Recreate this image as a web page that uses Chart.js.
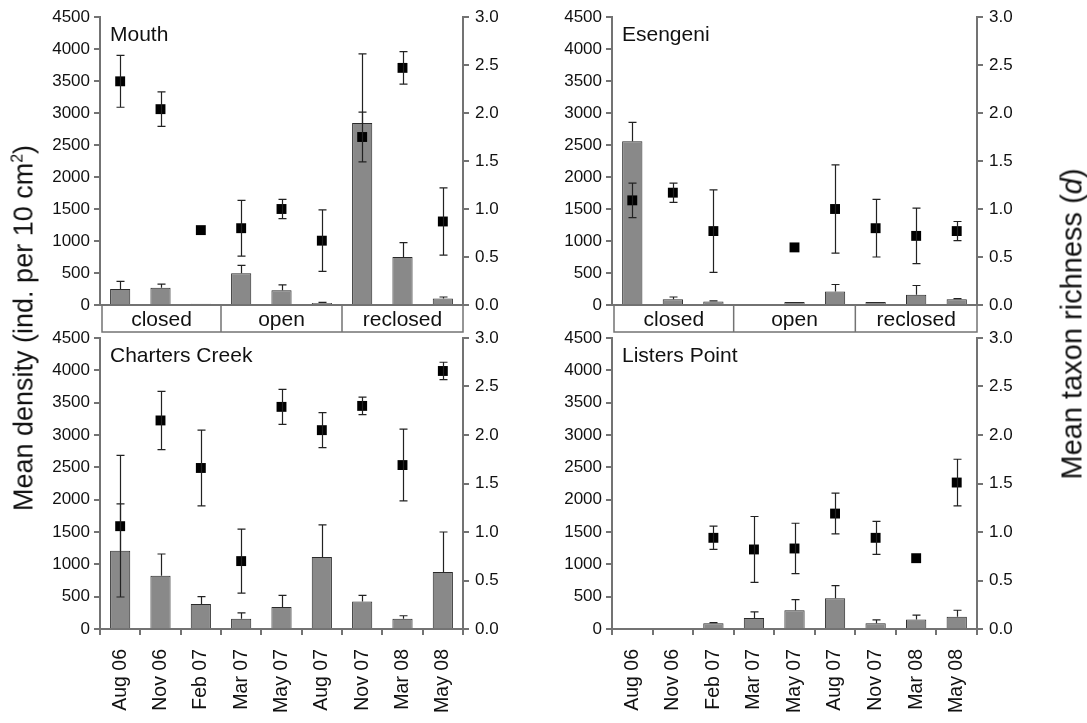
<!DOCTYPE html>
<html lang="en">
<head>
<meta charset="UTF-8">
<title>Mean density and taxon richness</title>
<script src="https://cdn.jsdelivr.net/npm/chart.js"></script>
<style>
  body { margin: 0; background: #fff; font-family: "Liberation Sans", Arial, sans-serif; }
  #wrap { position: relative; width: 1087px; height: 723px; overflow: hidden; }
  canvas { position: absolute; }
  .ytitle {
    position: absolute; white-space: nowrap; font-size: 27px; line-height: 1; color: #111;
    transform: translate(-50%, -50%) rotate(-90deg);
  }
  .ytitle sup { font-size: 16px; line-height: 0; vertical-align: 10px; }
</style>
</head>
<body>
<div id="wrap">
  <canvas id="mouth" width="545" height="345" style="left:0;top:0"></canvas>
  <canvas id="esengeni" width="542" height="345" style="left:545px;top:0"></canvas>
  <canvas id="charters" width="545" height="403" style="left:0;top:320px"></canvas>
  <canvas id="listers" width="542" height="403" style="left:545px;top:320px"></canvas>
  <div class="ytitle" style="left:24px;top:328px">Mean density (ind. per 10 cm<sup>2</sup>)</div>
  <div class="ytitle" style="left:1072px;top:324px;font-size:29px">Mean taxon richness (<i>d</i>)</div>
</div>

<script>
// sampling dates and mouth phases
const months = ['Aug 06', 'Nov 06', 'Feb 07', 'Mar 07', 'May 07', 'Aug 07', 'Nov 07', 'Mar 08', 'May 08'];
const phases = ['closed', 'open', 'reclosed'];
const densityTicks = [0, 500, 1000, 1500, 2000, 2500, 3000, 3500, 4000, 4500];
const richnessTicks = [0, 0.5, 1.0, 1.5, 2.0, 2.5, 3.0];

// Mouth
const mouthDensity = [250, 270, 20, 495, 230, 30, 2845, 750, 100];
const mouthDensityErr = [120, 57, 0, 125, 83, 10, 1080, 225, 25];
const mouthRichness = [2.33, 2.04, 0.78, 0.80, 1.00, 0.67, 1.75, 2.47, 0.87];
const mouthRichnessErr = [0.27, 0.18, 0, 0.29, 0.10, 0.32, 0.26, 0.17, 0.35];

// Esengeni
const esengeniDensity = [2560, 90, 55, null, 45, 210, 45, 160, 90];
const esengeniDensityErr = [295, 35, 10, null, 0, 110, 0, 145, 10];
const esengeniRichness = [1.09, 1.17, 0.77, null, 0.60, 1.00, 0.80, 0.72, 0.77];
const esengeniRichnessErr = [0.18, 0.10, 0.43, null, 0, 0.46, 0.30, 0.29, 0.10];

// Charters Creek
const chartersDensity = [1210, 825, 385, 160, 340, 1115, 425, 160, 880];
const chartersDensityErr = [725, 335, 115, 90, 180, 495, 95, 45, 620];
const chartersRichness = [1.06, 2.15, 1.66, 0.70, 2.29, 2.05, 2.30, 1.69, 2.66];
const chartersRichnessErr = [0.73, 0.30, 0.39, 0.33, 0.18, 0.18, 0.09, 0.37, 0.09];

// Listers Point
const listersDensity = [null, null, 90, 170, 290, 475, 90, 145, 190];
const listersDensityErr = [null, null, 10, 95, 165, 195, 50, 70, 100];
const listersRichness = [null, null, 0.94, 0.82, 0.83, 1.19, 0.94, 0.73, 1.51];
const listersRichnessErr = [null, null, 0.12, 0.34, 0.26, 0.21, 0.17, 0, 0.24];

const axisGrey = '#737373';
Chart.defaults.font.family = '"Liberation Sans", Arial, sans-serif';
Chart.defaults.color = '#111';

// error bars, panel title and the closed/open/reclosed strip
const extras = {
  id: 'extras',
  afterDatasetsDraw(chart) {
    const ctx = chart.ctx, xs = chart.scales.x;
    ctx.save();
    ctx.strokeStyle = '#222';
    ctx.lineWidth = 1.2;
    chart.data.datasets.forEach(ds => {
      const ys = chart.scales[ds.yAxisID];
      ds.data.forEach((v, i) => {
        const e = ds.errors[i];
        if (v == null || !e) return;
        const px = Math.round(xs.getPixelForValue(i)) + 0.5;
        const top = ys.getPixelForValue(v + e);
        const bot = ds.type === 'line' ? ys.getPixelForValue(v - e) : ys.getPixelForValue(v);
        ctx.beginPath();
        ctx.moveTo(px, top); ctx.lineTo(px, bot);
        ctx.moveTo(px - 4, top); ctx.lineTo(px + 4, top);
        if (ds.type === 'line') { ctx.moveTo(px - 4, bot); ctx.lineTo(px + 4, bot); }
        ctx.stroke();
      });
    });
    ctx.restore();
  },
  afterDraw(chart, args, opts) {
    const ctx = chart.ctx, a = chart.chartArea, xs = chart.scales.x;
    ctx.save();
    ctx.fillStyle = '#111';
    ctx.font = '21px "Liberation Sans", Arial, sans-serif';
    ctx.textBaseline = 'alphabetic';
    ctx.fillText(opts.title, a.left + 10, a.top + 24);
    if (opts.strip) {
      const top = a.bottom, h = 27;
      ctx.strokeStyle = axisGrey;
      ctx.lineWidth = 2;
      ctx.beginPath();
      ctx.moveTo(a.left, top); ctx.lineTo(a.right, top);
      ctx.stroke();
      ctx.lineWidth = 1.5;
      ctx.strokeRect(a.left + 2, top, a.right - a.left - 2, h);
      const edges = [a.left + 2];
      [2, 5].forEach(i => edges.push((xs.getPixelForValue(i) + xs.getPixelForValue(i + 1)) / 2));
      edges.push(a.right);
      ctx.beginPath();
      edges.slice(1, 3).forEach(x => { ctx.moveTo(x, top); ctx.lineTo(x, top + h); });
      ctx.stroke();
      ctx.font = '21px "Liberation Sans", Arial, sans-serif';
      ctx.textAlign = 'center';
      phases.forEach((p, i) => ctx.fillText(p, (edges[i] + edges[i + 1]) / 2, top + 21));
    }
    ctx.restore();
  }
};

function makeChart(id, title, density, densityErr, richness, richnessErr, bottom) {
  const right = id === 'mouth' || id === 'charters';
  const leftW = right ? 100 : 67;
  const rightW = right ? 82 : 110;
  return new Chart(document.getElementById(id), {
    type: 'bar',
    data: {
      labels: months,
      datasets: [
        {
          type: 'line', data: richness, errors: richnessErr, yAxisID: 'y1', order: 1,
          showLine: false, pointStyle: 'rect', pointRadius: 7, pointHoverRadius: 7,
          pointBackgroundColor: '#000', pointBorderWidth: 0, borderColor: '#000'
        },
        {
          type: 'bar', data: density, errors: densityErr, yAxisID: 'y', order: 2,
          backgroundColor: '#898989', borderColor: '#2a2a2a', borderWidth: 1,
          barPercentage: 0.5, categoryPercentage: 1
        }
      ]
    },
    options: {
      responsive: false,
      animation: false,
      layout: { padding: { top: bottom ? 18 : 17, bottom: bottom ? 0 : 40, left: 0, right: 0 } },
      plugins: {
        legend: { display: false },
        tooltip: { enabled: false },
        extras: { title: title, strip: !bottom }
      },
      scales: {
        x: {
          display: bottom,
          afterFit: s => { if (bottom) s.height = 94; },
          grid: { drawOnChartArea: false, tickLength: 6, color: axisGrey, lineWidth: 2 },
          border: { color: axisGrey, width: 2 },
          ticks: { autoSkip: false, maxRotation: 90, minRotation: 90, padding: 14, font: { size: 19.5 } }
        },
        y: {
          position: 'left', min: 0, max: 4500,
          afterFit: s => { s.width = leftW; },
          afterBuildTicks: s => { s.ticks = densityTicks.map(v => ({ value: v })); },
          grid: { drawOnChartArea: false, tickLength: 6, color: axisGrey, lineWidth: 2 },
          border: { color: axisGrey, width: 2 },
          ticks: { autoSkip: false, padding: 4, font: { size: 17 }, callback: v => String(v) }
        },
        y1: {
          position: 'right', min: 0, max: 3,
          afterFit: s => { s.width = rightW; },
          afterBuildTicks: s => { s.ticks = richnessTicks.map(v => ({ value: v })); },
          grid: { drawOnChartArea: false, tickLength: 6, color: axisGrey, lineWidth: 2 },
          border: { color: axisGrey, width: 2 },
          ticks: { autoSkip: false, padding: 6, font: { size: 17 }, callback: v => Number(v).toFixed(1) }
        }
      }
    },
    plugins: [extras]
  });
}

makeChart('mouth', 'Mouth', mouthDensity, mouthDensityErr, mouthRichness, mouthRichnessErr, false);
makeChart('esengeni', 'Esengeni', esengeniDensity, esengeniDensityErr, esengeniRichness, esengeniRichnessErr, false);
makeChart('charters', 'Charters Creek', chartersDensity, chartersDensityErr, chartersRichness, chartersRichnessErr, true);
makeChart('listers', 'Listers Point', listersDensity, listersDensityErr, listersRichness, listersRichnessErr, true);
</script>
</body>
</html>
